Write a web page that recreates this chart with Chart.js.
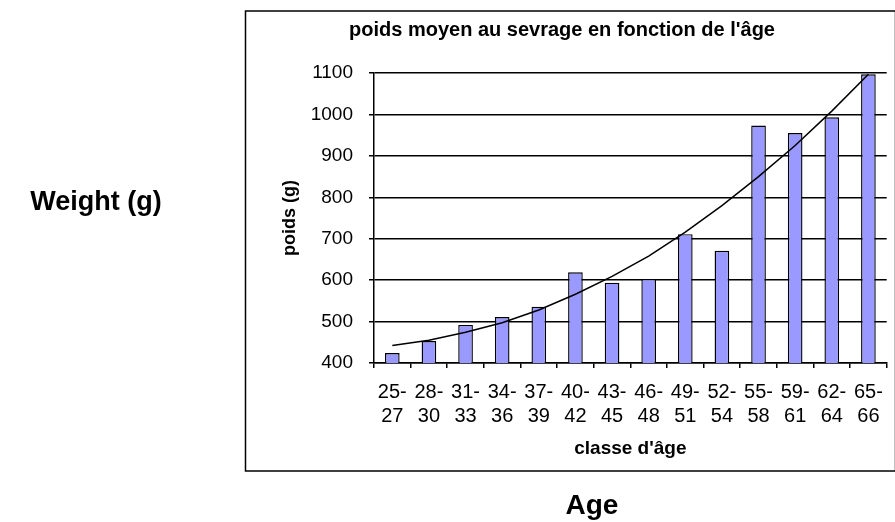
<!DOCTYPE html>
<html>
<head>
<meta charset="utf-8">
<script src="https://cdn.jsdelivr.net/npm/chart.js@4/dist/chart.umd.min.js"></script>
<style>
  html, body { margin: 0; padding: 0; background: #fff; }
  #wrap { position: relative; width: 895px; height: 522px; overflow: hidden; }
  canvas { position: absolute; left: 0; top: 0; }
  .outer { position: absolute; font-family: "Liberation Sans", Arial, sans-serif; font-weight: bold; color: #000; white-space: nowrap; transform: translate(-50%, -50%); }
</style>
</head>
<body>
<div id="wrap">
  <canvas id="c" width="895" height="522"></canvas>
  <div class="outer" style="left:96px; top:201px; font-size:27px;">Weight (g)</div>
  <div class="outer" style="left:592px; top:505px; font-size:28px;">Age</div>
</div>
<script>
const categories = [["25-","27"],["28-","30"],["31-","33"],["34-","36"],["37-","39"],["40-","42"],["43-","45"],["46-","48"],["49-","51"],["52-","54"],["55-","58"],["59-","61"],["62-","64"],["65-","66"]];
const meanWeight = [424, 453, 492, 511, 536, 619, 594, 603, 711, 671, 973, 955, 993, 1097];
const trendWeight = [442, 455, 474, 497, 528, 566, 609, 658, 716, 780, 850, 925, 1008, 1097];
const yTicks = [400, 500, 600, 700, 800, 900, 1000, 1100];
const chartTitle = "poids moyen au sevrage en fonction de l'âge";
const xTitle = "classe d'âge";
const yTitle = "poids (g)";

const FONT = '"Liberation Sans", Arial, sans-serif';

const framePlugin = {
  id: 'frame',
  beforeDraw(chart) {
    const ctx = chart.ctx;
    ctx.save();
    ctx.fillStyle = '#fff';
    ctx.fillRect(0, 0, chart.width, chart.height);
    ctx.strokeStyle = '#000';
    ctx.lineWidth = 1.5;
    ctx.strokeRect(245.5, 11, 650, 460);
    ctx.restore();
  },
  afterDraw(chart) {
    const ctx = chart.ctx;
    ctx.save();
    ctx.fillStyle = '#000';
    ctx.font = 'bold 20px ' + FONT;
    ctx.textAlign = 'center';
    ctx.textBaseline = 'middle';
    ctx.fillText(chartTitle, 562, 30);
    ctx.restore();
  }
};

new Chart(document.getElementById('c'), {
  type: 'bar',
  data: {
    labels: categories,
    datasets: [
      {
        type: 'line',
        data: trendWeight,
        borderColor: '#000',
        borderWidth: 1.5,
        pointRadius: 0,
        fill: false,
        tension: 0,
        order: 0
      },
      {
        type: 'bar',
        data: meanWeight,
        backgroundColor: '#9999ff',
        borderColor: '#000',
        borderWidth: 1.4,
        barPercentage: 0.4,
        categoryPercentage: 1.0,
        order: 1
      }
    ]
  },
  options: {
    responsive: false,
    animation: false,
    devicePixelRatio: 1,
    layout: { padding: { left: 250, right: 4, top: 73, bottom: 59 } },
    plugins: {
      legend: { display: false },
      title: { display: false },
      tooltip: { enabled: false }
    },
    scales: {
      x: {
        offset: true,
        afterFit(scale) { scale.height = 100; },
        grid: {
          display: true,
          drawOnChartArea: false,
          drawTicks: true,
          tickLength: 5,
          color: '#000',
          lineWidth: 1.5,
          offset: true
        },
        border: { display: true, color: '#000', width: 1.5 },
        ticks: {
          color: '#000',
          font: { family: FONT, size: 20, lineHeight: 1.2 },
          padding: 12,
          maxRotation: 0,
          minRotation: 0,
          autoSkip: false
        },
        title: {
          display: true,
          text: xTitle,
          color: '#000',
          font: { family: FONT, size: 19, weight: 'bold', lineHeight: 1.2 },
          padding: { top: 0, bottom: 3 }
        }
      },
      y: {
        min: 400,
        max: 1100,
        afterFit(scale) { scale.width = 124; },
        afterBuildTicks(scale) { scale.ticks = yTicks.map(v => ({ value: v })); },
        grid: {
          color: '#000',
          lineWidth: 1.5,
          drawTicks: true,
          tickLength: 5
        },
        border: { display: true, color: '#000', width: 1.5 },
        ticks: {
          color: '#000',
          font: { family: FONT, size: 19 },
          padding: 16,
          callback: (v) => String(v)
        },
        title: {
          display: true,
          text: yTitle,
          color: '#000',
          font: { family: FONT, size: 18, weight: 'bold', lineHeight: 1.2 },
          padding: { top: 29, bottom: 0 }
        }
      }
    }
  },
  plugins: [framePlugin]
});
</script>
</body>
</html>
